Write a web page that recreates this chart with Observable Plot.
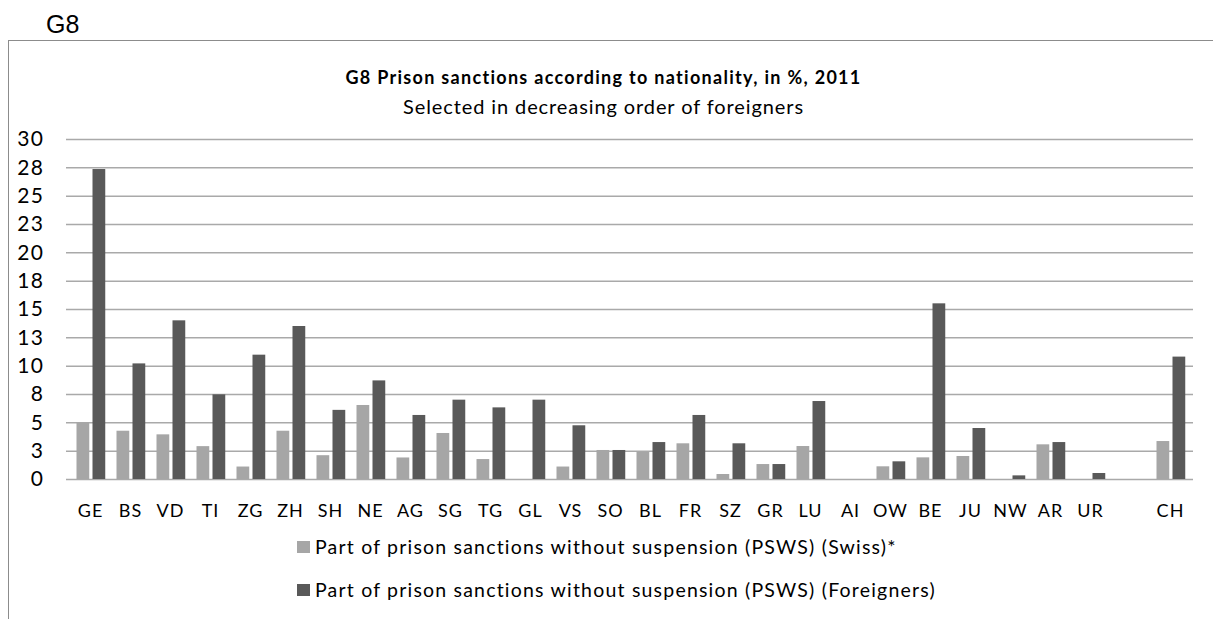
<!DOCTYPE html>
<html>
<head>
<meta charset="utf-8">
<script src="https://cdn.jsdelivr.net/npm/d3@7"></script>
<script src="https://cdn.jsdelivr.net/npm/@observablehq/plot@0.6"></script>
<style>
  body { margin: 0; background: #fff; }
  #wrap { position: relative; width: 1213px; height: 619px; overflow: hidden; font-family: Lato, "Open Sans", sans-serif; color: #000; background: #fff; }
  #g8 { position: absolute; left: 46px; top: 11.7px; font-family: "Liberation Sans", Arial, sans-serif; font-size: 25px; line-height: 25px; }
  #frame { position: absolute; left: 8px; top: 40px; width: 1400px; height: 800px; border-top: 1.5px solid #8c8c8c; border-left: 1.5px solid #8c8c8c; }
  #title { position: absolute; left: 0; width: 1207px; top: 67.5px; text-align: center; font-weight: bold; font-size: 18px; line-height: 18px; letter-spacing: 1.3px; }
  #subtitle { position: absolute; left: 0; width: 1207px; top: 96px; text-align: center; font-size: 20px; line-height: 20px; letter-spacing: 0.9px; }
  #chart { position: absolute; left: 0; top: 120px; }
  #chart g[aria-label="x-axis tick label"] text { letter-spacing: 1px; }
  #chart g[aria-label="y-axis tick label"] text { letter-spacing: 1.5px; }
  .leg { position: absolute; left: 297px; font-size: 19.5px; line-height: 19.5px; white-space: nowrap; letter-spacing: 1.2px; }
  .leg .sw { position: absolute; left: 0; top: 4px; width: 13px; height: 12px; }
  .leg .tx { position: absolute; left: 18px; top: 0; }
</style>
</head>
<body>
<div id="wrap">
  <div id="frame"></div>
  <div id="g8">G8</div>
  <div id="title">G8 Prison sanctions according to nationality, in %, 2011</div>
  <div id="subtitle">Selected in decreasing order of foreigners</div>
  <div id="chart"></div>
  <div class="leg" id="leg1" style="top:537px"><span class="sw" style="background:#a6a6a6"></span><span class="tx">Part of prison sanctions without suspension (PSWS) (Swiss)*</span></div>
  <div class="leg" id="leg2" style="top:580px"><span class="sw" style="background:#595959"></span><span class="tx">Part of prison sanctions without suspension (PSWS) (Foreigners)</span></div>
</div>
<script>
// Categories (a blank slot separates UR and CH)
const cantons = ["GE","BS","VD","TI","ZG","ZH","SH","NE","AG","SG","TG","GL","VS","SO","BL","FR","SZ","GR","LU","AI","OW","BE","JU","NW","AR","UR"," ","CH"];
// Swiss share (%)
const swiss = [5.0,4.26,3.94,2.9,1.1,4.26,2.1,6.53,1.9,4.06,1.76,0,1.1,2.56,2.41,3.15,0.44,1.32,2.91,0,1.12,1.91,2.03,0,3.06,0,null,3.35];
// Foreigners share (%)
const foreigners = [27.35,10.2,14.0,7.47,10.97,13.5,6.1,8.7,5.65,7.0,6.32,7.0,4.74,2.56,3.26,5.65,3.15,1.32,6.88,0,1.56,15.5,4.5,0.32,3.26,0.53,null,10.8];
// Y tick values (labels shown rounded, as in the source)
const yTicks = [0,2.5,5,7.5,10,12.5,15,17.5,20,22.5,25,27.5,30];

const swissData = cantons.map((c, i) => ({canton: c, value: swiss[i]})).filter(d => d.value != null);
const foreignData = cantons.map((c, i) => ({canton: c, value: foreigners[i]})).filter(d => d.value != null);

const chart = Plot.plot({
  width: 1213,
  height: 410,
  marginLeft: 66,
  marginRight: 20,
  marginTop: 19,
  marginBottom: 51,
  style: {fontFamily: "Lato, 'Open Sans', sans-serif", background: "transparent", color: "#000"},
  x: {type: "band", domain: cantons, padding: 0, label: null},
  y: {domain: [0, 30], label: null},
  marks: [
    Plot.ruleY(yTicks, {stroke: "#a9a9a9", strokeWidth: 1.5}),
    Plot.barY(swissData, {x: "canton", y: "value", fill: "#a6a6a6", insetLeft: 6.5, insetRight: 20.75}),
    Plot.barY(foreignData, {x: "canton", y: "value", fill: "#595959", insetLeft: 22.5, insetRight: 4.75}),
    Plot.axisY(yTicks, {tickSize: 0, tickPadding: 22, tickFormat: d => String(Math.round(d)), fontSize: 21, label: null, fill: "#000"}),
    Plot.axisX({tickSize: 0, tickPadding: 25, fontSize: 18, label: null, fill: "#000"})
  ]
});
document.getElementById("chart").appendChild(chart);
</script>
</body>
</html>
